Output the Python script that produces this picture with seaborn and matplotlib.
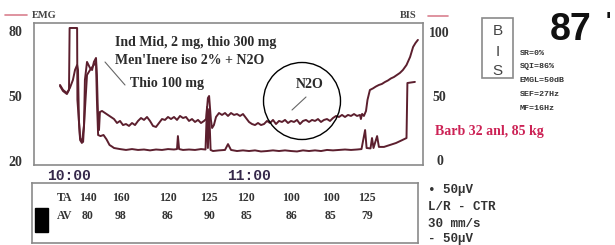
import matplotlib
matplotlib.use("Agg")
import matplotlib.pyplot as plt
from matplotlib.lines import Line2D
from matplotlib.patches import Circle, Rectangle
import seaborn as sns

# trend data, time in minutes relative to 10:00
bis_t = [-3.0, -2.0, -0.7, 0.3, 1.3, 2.0, 2.7, 3.0, 3.3, 3.7, 4.3, 5.0, 5.3, 6.0, 7.0, 7.7, 8.3, 9.0, 9.3, 9.7, 10.0, 10.3,
         11, 12, 13, 14, 15, 16, 17, 18, 19, 20, 21, 22, 23, 24, 25, 26, 27, 28, 29, 30, 31, 32, 33, 34, 35,
         36, 37, 38, 39, 40, 41, 42, 43, 44, 45,
         45.7, 46.3, 46.7, 47.0, 47.3, 47.7, 48.3,
         49, 50, 51, 52, 53, 54, 55, 56, 57, 58, 59, 60, 61, 62, 63, 64, 65, 66, 67, 68, 69, 70, 71, 72, 73,
         74, 75, 76, 77, 78, 79, 80, 81, 82, 83, 84, 85, 86, 87, 88, 89, 90, 91, 92, 93, 94, 95, 96, 97,
         97.3, 97.7, 98.3, 99.0, 99.5, 100.3, 101.3, 102.3, 103.3, 104.3, 105.3, 106.3, 107.3, 108.3, 109.3,
         110.3, 111.3, 112.5, 113.7, 114.7, 115.5, 116.3]
bis_v = [58.6, 54.7, 52.3, 56.3, 62.5, 70.3, 74.2, 70.3, 31.3, 15.6, 13.3, 27.3, 62.5, 76.6, 71.9, 70.3, 76.6, 79.7, 66.4, 31.3, 23.4, 37.5,
         38.3, 36.7, 35.2, 33.6, 32.0, 28.9, 30.5, 27.3, 28.1, 26.6, 28.9, 27.3, 30.5, 32.8, 31.3, 33.6, 30.5, 26.6, 25.8, 28.9, 32.0, 31.3, 33.6, 32.0, 33.6,
         31.3, 34.4, 32.8, 33.6, 30.5, 32.0, 29.7, 31.3, 28.9, 30.5,
         32.0, 48.4, 50.0, 40.6, 31.3, 25.0, 27.3,
         33.6, 36.7, 35.2, 36.7, 34.4, 36.7, 35.2, 35.9, 34.4, 35.9, 32.8, 29.7, 28.1, 27.3, 28.9, 27.3, 28.1, 30.5, 28.9, 31.3, 28.1, 30.5, 29.7, 31.3, 28.9,
         30.5, 29.7, 31.3, 28.1, 30.5, 31.3, 29.7, 31.3, 30.5, 32.0, 29.7, 31.3, 32.0, 30.5, 32.8, 34.4, 33.6, 35.2, 33.6, 35.2, 34.4, 35.9, 34.4, 35.2,
         32.0, 36.0, 34.4, 38.3, 47.0, 54.7, 55.9, 57.4, 58.6, 59.4, 60.9, 62.1, 63.7, 64.8, 66.4,
         68.0, 70.3, 74.2, 80.5, 88.3, 91.4, 93.8]

emg_t = [-3.0, -2.0, -0.7, 0.0, 0.2, 2.7, 2.8, 3.7, 4.7, 5.3, 6.0, 7.0, 8.0, 9.0, 9.3, 9.7, 10.5, 11.5, 12.5, 13.5, 14.5,
         15, 17, 19, 21, 23, 25, 27, 29, 31, 33, 35, 36, 36.3, 36.7, 38, 40, 42, 44, 45.5, 46, 46.3, 46.7, 47.2,
         48, 50, 52, 53, 54, 56, 58, 60, 62, 64, 66, 68, 70, 72, 74, 76, 78, 80, 82, 84, 86, 88, 90, 92, 94, 96,
         97.5, 98.7, 99.2, 100.5, 101.0, 101.5, 102.7, 103.3, 105, 107, 109, 111, 112.5, 112.8, 115.3]
emg_v = [54.6, 52.3, 50.9, 52.8, 81.4, 81.4, 48.2, 30.6, 28.8, 43.5, 59.7, 62.0, 63.8, 65.7, 48.2, 32.0, 31.5, 32.0, 30.0, 27.4, 26.5,
         26.0, 25.5, 25.1, 25.5, 25.1, 25.3, 24.9, 25.3, 25.1, 25.5, 25.3, 25.5, 31.5, 25.5, 25.1, 25.3, 25.1, 25.5, 25.3, 44.9, 26.0, 44.0, 25.1,
         24.6, 24.9, 25.1, 27.8, 25.1, 24.6, 24.9, 24.6, 24.9, 24.4, 24.6, 24.9, 24.6, 24.9, 24.6, 24.4, 24.9, 24.6, 24.9, 24.6, 25.1, 24.9, 25.1, 25.3, 25.1, 25.3,
         25.5, 34.3, 26.0, 25.8, 30.6, 26.0, 31.5, 26.5, 26.5, 27.4, 28.3, 29.6, 30.6, 56.0, 56.5]

time_ticks = [0, 60]
time_labels = ["10:00", "11:00"]
emg_ticks = [20, 50, 80]
bis_ticks = [0, 50, 100]

# blood pressure notes under the trend
bp_times = [6.3, 17.3, 33, 46.7, 59, 74, 87.3, 99.3]
ta_vals = [140, 160, 120, 125, 120, 100, 100, 125]
av_vals = [80, 98, 86, 90, 85, 86, 85, 79]

bis_value = "87"
bis_params = ["SR=0%", "SQI=86%", "EMGL=50dB", "SEF=27Hz", "MF=16Hz"]
patient_note = "Barb 32 anl, 85 kg"
scale_notes = ["\u2022 50\u00b5V", "L/R - CTR", "30 mm/s", "- 50\u00b5V"]

W, H = 615, 245
SERIF = "Liberation Serif"
MONO = "Liberation Mono"
TRACE = "#5c1f2e"
FRAME = "#8a8a8a"


def fx(x):
    return x / W


def fy(y):
    return 1 - y / H


sns.set_style("white")
fig = plt.figure(figsize=(W / 100, H / 100), dpi=100)

# main trend panel
ax = fig.add_axes([fx(34), fy(165), (423 - 34) / W, (165 - 23) / H])
ax2 = ax.twinx()
sns.lineplot(x=emg_t, y=emg_v, ax=ax, color=TRACE, lw=1.4, sort=False, estimator=None)
sns.lineplot(x=bis_t, y=bis_v, ax=ax2, color=TRACE, lw=1.4, sort=False, estimator=None)
ax.set_xlim(-11.67, 118)
ax.set_ylim(18.15, 83.7)
ax2.set_ylim(-3.9, 107.0)
ax.set_xticks(time_ticks, time_labels)
ax.set_yticks(emg_ticks)
ax2.set_yticks(bis_ticks)
ax.tick_params(axis="x", length=0, pad=3)
ax.tick_params(axis="y", length=0, pad=8.5)
ax2.tick_params(axis="y", length=0, pad=12)
for lab in ax.get_xticklabels():
    lab.set_fontfamily(MONO)
    lab.set_fontweight("bold")
    lab.set_fontsize(10.5)
    lab.set_color("#35284a")
for lab in ax.get_yticklabels():
    lab.set_fontfamily(SERIF)
    lab.set_fontweight("bold")
    lab.set_fontsize(10)
    lab.set_color("#333333")
for lab in ax2.get_yticklabels():
    lab.set_fontfamily(SERIF)
    lab.set_fontweight("bold")
    lab.set_fontsize(10)
    lab.set_color("#333333")
    lab.set_horizontalalignment("center")
for s in ax.spines.values():
    s.set_color(FRAME)
    s.set_linewidth(1.2)
for s in ax2.spines.values():
    s.set_visible(False)
ax.set_xlabel("")
ax.set_ylabel("")
ax2.set_ylabel("")

# header labels
txt = dict(fontfamily=SERIF, fontweight="bold", color="#444444", va="center")
fig.text(fx(32), fy(15), "EMG", fontsize=7.5, ha="left", **txt)
fig.text(fx(400), fy(15), "BIS", fontsize=7.5, ha="left", **txt)
fig.add_artist(Line2D([fx(5), fx(27)], [fy(15), fy(15)], color="#d9808f", lw=1.2, transform=fig.transFigure))
fig.add_artist(Line2D([fx(428), fx(448)], [fy(16), fy(16)], color="#d9808f", lw=1.2, transform=fig.transFigure))

# annotations inside the trend
ann = dict(fontfamily=SERIF, fontweight="bold", color="#2b2b2b", va="center", ha="left", fontsize=10)
fig.text(fx(115), fy(42), "Ind Mid, 2 mg, thio 300 mg", **ann)
fig.text(fx(115), fy(60), "Men'Inere iso 2% + N2O", **ann)
fig.text(fx(130), fy(84), "Thio 100 mg", **ann)
fig.text(fx(296), fy(84), "N2O", **ann)
fig.add_artist(Line2D([fx(105), fx(125)], [fy(62), fy(85)], color="#666666", lw=0.8, transform=fig.transFigure))
fig.add_artist(Line2D([fx(306), fx(292)], [fy(97), fy(110)], color="#666666", lw=0.8, transform=fig.transFigure))
fig.add_artist(Circle((3.02, (H - 101) / 100), 0.385, transform=fig.dpi_scale_trans,
                      fill=False, edgecolor="black", lw=1.0))

# blood pressure box
axb = fig.add_axes([fx(32), fy(243), 386 / W, 60 / H])
axb.set_xlim(-12.33, 116.33)
axb.set_ylim(0, 1)
axb.set_xticks([])
axb.set_yticks([])
for s in axb.spines.values():
    s.set_color(FRAME)
    s.set_linewidth(1.2)
bp = dict(fontfamily=SERIF, fontweight="bold", color="#333333", va="center", fontsize=8.5)
axb.text(0.065, 0.75, "TA", transform=axb.transAxes, ha="left", **bp)
axb.text(0.065, 0.45, "AV", transform=axb.transAxes, ha="left", **bp)
for t, ta, av in zip(bp_times, ta_vals, av_vals):
    axb.text(t, 0.75, str(ta), ha="center", **bp)
    axb.text(t, 0.45, str(av), ha="center", **bp)
axb.add_patch(Rectangle((0.008, 0.18), 0.034, 0.4, transform=axb.transAxes, color="black"))

# BIS readout on the right
fig.add_artist(Rectangle((fx(482), fy(78)), 31 / W, 60 / H, transform=fig.transFigure,
                         fill=False, edgecolor=FRAME, lw=1.2))
for letter, y in zip("BIS", [31, 52, 71]):
    fig.text(fx(497.5), fy(y), letter, fontfamily="Liberation Sans", fontsize=11,
             color="#444444", ha="center", va="center")
fig.text(fx(550), fy(30), bis_value, fontfamily="Liberation Sans", fontsize=27, fontweight="bold",
         color="#111111", ha="left", va="center")
fig.text(fx(606), fy(22), "'", fontfamily="Liberation Sans", fontsize=16, fontweight="bold",
         color="#111111", ha="left", va="center")
for line, y in zip(bis_params, [53, 67, 81, 95, 108]):
    fig.text(fx(520), fy(y), line, fontfamily=MONO, fontweight="bold", fontsize=6,
             color="#333333", ha="left", va="center")
fig.text(fx(435), fy(132), patient_note, fontfamily=SERIF, fontweight="bold", fontsize=10,
         color="#cc2255", ha="left", va="center")
for line, y in zip(scale_notes, [190, 207, 224, 239]):
    fig.text(fx(428), fy(y), line, fontfamily=MONO, fontweight="bold", fontsize=9,
             color="#333333", ha="left", va="center")

fig.savefig("out.png", dpi=100)
